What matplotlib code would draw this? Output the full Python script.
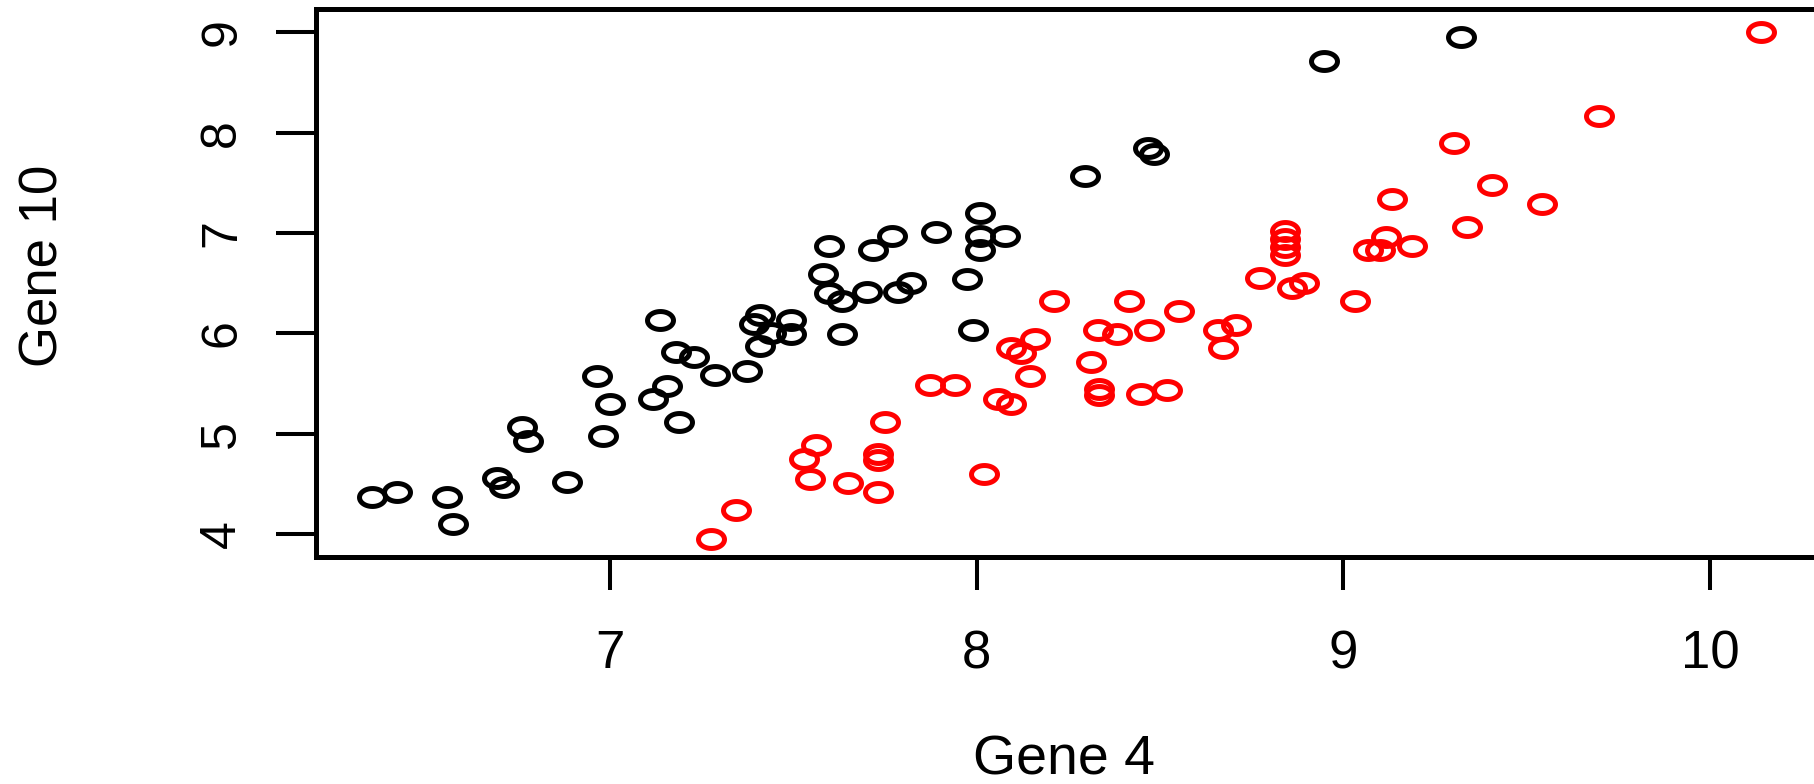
import numpy as np
import matplotlib
matplotlib.use("Agg")
import matplotlib.pyplot as plt
from matplotlib.path import Path

plt.rcParams["font.family"] = ["Liberation Sans", "DejaVu Sans"]

# group 1 (black) - Gene 4 / Gene 10
black_gene4 = [6.352, 6.420, 6.556, 6.573, 6.693, 6.710, 6.761, 6.777, 6.882, 6.965,
               6.982, 7.000, 7.118, 7.154, 7.136, 7.179, 7.229, 7.188, 7.286, 7.374,
               7.410, 7.392, 7.493, 7.493, 7.440, 7.410, 7.580, 7.596, 7.632, 7.632,
               7.597, 7.716, 7.768, 7.702, 7.784, 7.820, 7.888, 7.973, 7.991, 8.008,
               8.008, 8.076, 8.008, 8.296, 8.468, 8.484, 8.946, 9.321]
black_gene10 = [4.372, 4.419, 4.372, 4.097, 4.555, 4.465, 5.067, 4.927, 4.515, 5.578,
                4.977, 5.296, 5.346, 5.480, 6.130, 5.815, 5.760, 5.117, 5.585, 5.625,
                6.180, 6.094, 6.130, 5.990, 6.000, 5.870, 6.595, 6.406, 6.320, 5.990,
                6.875, 6.830, 6.975, 6.410, 6.410, 6.500, 7.014, 6.546, 6.037, 7.197,
                6.975, 6.968, 6.830, 7.566, 7.845, 7.789, 8.719, 8.955]

# group 2 (red)
red_gene4 = [7.275, 7.343, 7.529, 7.546, 7.562, 7.648, 7.732, 7.732, 7.732, 7.749,
             7.872, 7.940, 8.021, 8.057, 8.094, 8.093, 8.120, 8.159, 8.144, 8.212,
             8.313, 8.333, 8.333, 8.332, 8.383, 8.416, 8.449, 8.469, 8.519, 8.553,
             8.657, 8.707, 8.673, 8.774, 8.861, 8.894, 8.842, 8.842, 8.842, 8.842,
             9.032, 9.066, 9.100, 9.117, 9.186, 9.133, 9.338, 9.303, 9.406, 9.542,
             9.696, 10.140]
red_gene10 = [3.953, 4.236, 4.748, 4.552, 4.884, 4.512, 4.800, 4.740, 4.416, 5.113,
              5.482, 5.482, 4.601, 5.342, 5.296, 5.857, 5.800, 5.947, 5.578, 6.320,
              5.715, 5.443, 5.386, 6.037, 5.990, 6.320, 5.393, 6.037, 5.436, 6.226,
              6.037, 6.084, 5.852, 6.549, 6.456, 6.500, 7.021, 6.940, 6.860, 6.778,
              6.320, 6.830, 6.830, 6.965, 6.875, 7.337, 7.058, 7.895, 7.477, 7.290,
              8.170, 9.002]

x_ticks = [7, 8, 9, 10]
y_ticks = [4, 5, 6, 7, 8, 9]

# stretched open circle, like the reference
t = np.linspace(0, 2 * np.pi, 60)
ellipse = Path(np.column_stack([np.cos(t), 0.69 * np.sin(t)]), closed=True)

fig = plt.figure(figsize=(18.14, 7.84), dpi=100)
ax = fig.add_axes([316 / 1814, 1 - 557 / 784, 1603 / 1814, 548 / 784])

for xs, ys, col in [(black_gene4, black_gene10, "black"), (red_gene4, red_gene10, "red")]:
    ax.plot(xs, ys, linestyle="none", marker=ellipse, markersize=18.7,
            markerfacecolor="none", markeredgecolor=col, markeredgewidth=3.6)

ax.set_xlim(6.198, 10.57)
ax.set_ylim(3.771, 9.234)
ax.set_xticks(x_ticks)
ax.set_yticks(y_ticks)
ax.set_xticklabels([str(v) for v in x_ticks], fontsize=38)
ax.set_yticklabels([str(v) for v in y_ticks], fontsize=36, rotation=90, va="center")
ax.tick_params(axis="x", length=24, width=2.9, pad=28)
ax.tick_params(axis="y", length=29, width=2.9, pad=22)
for s in ax.spines.values():
    s.set_linewidth(3.6)

fig.text(1064 / 1814, 0.012, "Gene 4", fontsize=40, ha="center", va="baseline")
fig.text(44 / 1814, 1 - 266 / 784, "Gene 10", fontsize=38, rotation=90,
         ha="center", va="center")

fig.savefig("out.png", dpi=100)
